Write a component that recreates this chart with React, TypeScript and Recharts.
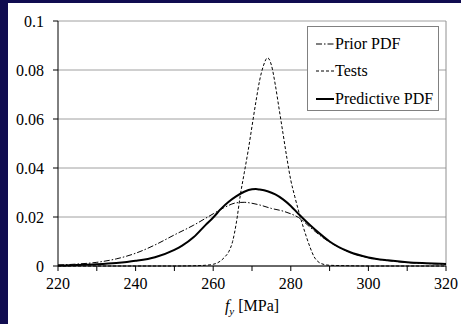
import React from 'react'
import {
  LineChart,
  Line,
  XAxis,
  YAxis,
  CartesianGrid,
  ReferenceLine,
  Legend,
  Label,
} from 'recharts'

// Prior PDF (dash-dot)
const priorX = [220, 225, 230, 235, 240, 245, 250, 255, 260, 263, 266, 268, 270, 272, 275, 278, 280, 282, 285, 288, 290, 295, 300, 305, 310, 315, 320]
const priorY = [0.0004, 0.0008, 0.0015, 0.0029, 0.0052, 0.0086, 0.0127, 0.0167, 0.0213, 0.024, 0.0258, 0.026, 0.0256, 0.0249, 0.0235, 0.0224, 0.0213, 0.0198, 0.0158, 0.0119, 0.0098, 0.0057, 0.0034, 0.0022, 0.0014, 0.001, 0.0007]

// Tests (dashed)
const testsX = [220, 230, 240, 250, 255, 258, 260, 261, 262, 263, 264, 265, 266, 267, 268, 269, 270, 271, 272, 273, 274, 275, 276, 277, 278, 279, 280, 281, 282, 283, 284, 285, 286, 287, 288, 290, 295, 300, 310, 320]
const testsY = [0, 0, 0, 0, 0.0001, 0.0003, 0.0007, 0.0012, 0.0022, 0.0037, 0.0058, 0.01, 0.018, 0.029, 0.038, 0.047, 0.057, 0.067, 0.076, 0.082, 0.085, 0.082, 0.074, 0.064, 0.054, 0.044, 0.035, 0.0285, 0.0225, 0.017, 0.012, 0.0075, 0.0038, 0.0018, 0.0009, 0.0003, 0.0001, 0, 0, 0]

// Predictive PDF (solid)
const predX = [220, 225, 230, 235, 240, 245, 250, 252, 255, 258, 260, 262, 264, 266, 268, 270, 271, 272, 274, 276, 278, 280, 282, 285, 288, 290, 295, 300, 305, 310, 315, 320]
const predY = [0.0002, 0.0004, 0.0007, 0.0012, 0.0021, 0.0036, 0.0066, 0.0083, 0.0118, 0.0167, 0.0198, 0.0233, 0.0262, 0.0285, 0.0303, 0.0313, 0.0314, 0.0312, 0.0305, 0.0292, 0.0272, 0.0245, 0.0212, 0.0166, 0.0125, 0.01, 0.0058, 0.0035, 0.0023, 0.0015, 0.0011, 0.0008]

const xTicks = [220, 230, 240, 250, 260, 270, 280, 290, 300, 310, 320]
const yTicks = [0, 0.02, 0.04, 0.06, 0.08, 0.1]

const FONT = "'Liberation Serif', 'Times New Roman', serif"

const toPoints = (xs: number[], ys: number[]) => xs.map((x, i) => ({ x, y: ys[i] }))

const series = [
  { name: 'Prior PDF', data: toPoints(priorX, priorY), dash: '6 2 1.5 2', width: 1 },
  { name: 'Tests', data: toPoints(testsX, testsY), dash: '3 2', width: 1 },
  { name: 'Predictive PDF', data: toPoints(predX, predY), dash: undefined, width: 2 },
]

const renderLegend = () => (
  <div
    style={{
      width: 130,
      height: 80,
      border: '1px solid #808080',
      background: '#fff',
      fontFamily: FONT,
      fontSize: 16,
      color: '#000',
      paddingTop: 3,
      boxSizing: 'content-box',
    }}
  >
    {series.map((s) => (
      <div key={s.name} style={{ display: 'flex', alignItems: 'center', height: 27.5 }}>
        <svg width={27} height={10} style={{ flex: 'none' }}>
          <line x1={8} y1={5} x2={26} y2={5} stroke="#000" strokeWidth={s.width} strokeDasharray={s.dash} />
        </svg>
        <span style={{ lineHeight: '16px' }}>{s.name}</span>
      </div>
    ))}
  </div>
)

const AxisTitle = ({ viewBox }: any) => {
  const cx = viewBox.x + viewBox.width / 2
  const y = viewBox.y + 45
  return (
    <text x={cx} y={y} textAnchor="middle" fontFamily={FONT} fontSize={16} fill="#000">
      <tspan fontStyle="italic">f</tspan>
      <tspan fontSize={11} fontStyle="italic" dy={4}>y</tspan>
      <tspan dy={-4}> [MPa]</tspan>
    </text>
  )
}

export default function App() {
  return (
    <div style={{ position: 'absolute', left: 0, top: 0, width: 461, height: 324, background: '#100c50' }}>
      <div style={{ position: 'absolute', left: 8, top: 3, width: 453, height: 321, background: '#fff' }}>
        <LineChart width={453} height={321} margin={{ top: 18, right: 15, left: 0, bottom: 0 }}>
          <CartesianGrid vertical={false} stroke="#a0a0a0" />
          <XAxis
            type="number"
            dataKey="x"
            domain={[220, 320]}
            ticks={xTicks}
            tickFormatter={(v: number) => (v % 20 === 0 ? String(v) : '')}
            height={58}
            tickSize={5}
            tickMargin={7}
            stroke="#000"
            tick={{ fill: '#000', fontSize: 16, fontFamily: FONT }}
            allowDuplicatedCategory={false}
          >
            <Label content={<AxisTitle />} />
          </XAxis>
          <YAxis
            type="number"
            domain={[0, 0.1]}
            ticks={yTicks}
            width={50}
            tickSize={5}
            tickMargin={9}
            stroke="#000"
            tickFormatter={(v: number) => (v === 0 ? '0' : String(Number(v.toFixed(2))))}
            tick={{ fill: '#000', fontSize: 16, fontFamily: FONT }}
          />
          <ReferenceLine x={320} stroke="#909090" />
          {series.map((s) => (
            <Line
              key={s.name}
              data={s.data}
              dataKey="y"
              name={s.name}
              type="monotone"
              stroke="#000"
              strokeWidth={s.width}
              strokeDasharray={s.dash}
              dot={false}
              activeDot={false}
              isAnimationActive={false}
            />
          ))}
          <Legend
            content={renderLegend}
            layout="vertical"
            align="center"
            verticalAlign="middle"
            wrapperStyle={{ left: 299, top: 23, width: 132, height: 82 }}
          />
        </LineChart>
      </div>
    </div>
  )
}
